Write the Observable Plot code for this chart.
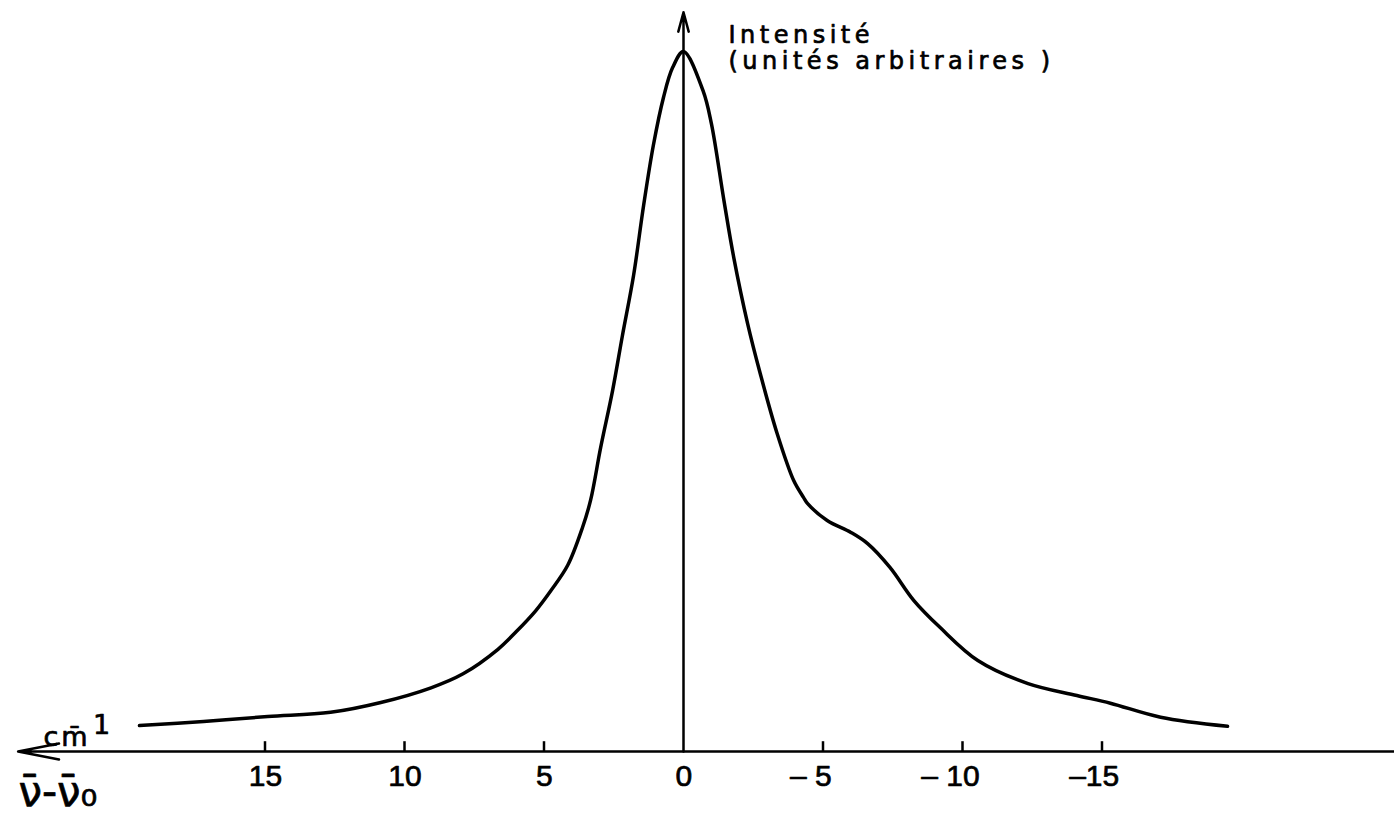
<!DOCTYPE html>
<html>
<head>
<meta charset="utf-8">
<script src="https://cdn.jsdelivr.net/npm/d3@7"></script>
<script src="https://cdn.jsdelivr.net/npm/@observablehq/plot@0.6"></script>
<style>
  html, body { margin: 0; padding: 0; background: #fff; }
  #chart svg { display: block; }
</style>
</head>
<body>
<div id="chart"></div>
<script>
// Raman band profile: wavenumber shift (cm-1) from the line centre and intensity (arbitrary units)
const shift = [19.5, 17.2, 14.9, 12.65, 10.85, 9.05, 7.9, 6.65, 6.0, 5.3, 4.75, 4.15, 3.62, 3.33, 2.97, 2.54, 2.19,
               1.79, 1.43, 1.08, 0.72, 0.39, 0,
               -0.7, -1.0, -1.45, -1.8, -2.3, -2.75, -3.35, -3.95, -4.3, -4.45, -5.15, -6.0, -6.6, -7.4, -8.25,
               -9.2, -10.55, -12.35, -14.1, -15.3, -17.1, -19.5];
const intensity = [3.7, 4.3, 5.0, 5.6, 7.0, 9.1, 11.1, 14.6, 17.1, 20.1, 23.0, 26.6, 32.0, 35.9, 43.4, 51.6, 59.4,
                   68.0, 78.0, 86.6, 93.4, 97.7, 100,
                   94.4, 89.7, 78.7, 70.6, 61.1, 54.0, 45.5, 38.7, 36.3, 35.4, 33.0, 31.3, 29.7, 26.3, 21.6,
                   17.7, 13.0, 9.7, 8.0, 6.9, 4.9, 3.6];

// Axis ticks and their labels
const tickValues = [15, 10, 5, 0, -5, -10, -15];
const tickLabels = ["15", "10", "5", "0", "– 5", "– 10", "–15"];

// Extent of the two drawn axes (in data units)
const xAxisExtent = [-25.5, 23.85];
const yAxisTop = 105.6;

const profile = shift.map((s, i) => ({shift: s, intensity: intensity[i]}));
const ticks = tickValues.map((v, i) => ({value: v, label: tickLabels[i]}));
const digitCount = s => s.replace(/[^0-9]/g, "").length;

const axisW = 2.5;
const labelFont = "Liberation Sans, Arial, sans-serif";
const letterFont = "DejaVu Sans, sans-serif";
// a thin outline in the text colour gives the heavier pen stroke of the lettering
const ink = {fill: "#000", stroke: "#000", strokeWidth: 0.7};

// tick labels are right-aligned so that their digits end up centred on the tick
const tickLabelMark = (n) => Plot.text(ticks, {
  filter: d => digitCount(d.label) === n,
  x: "value", y: 0, text: "label",
  textAnchor: "end",
  dx: n * 8.6,
  dy: 25,
  lineAnchor: "middle",
  fontSize: 30,
  fontFamily: labelFont,
  ...ink
});

const chart = Plot.plot({
  width: 1394,
  height: 814,
  marginLeft: 125,
  marginRight: 153,
  marginTop: 51,
  marginBottom: 63,
  x: {domain: [20, -20], axis: null},
  y: {domain: [0, 100], axis: null},
  style: {background: "#fff", color: "#000", overflow: "visible"},
  marks: [
    // horizontal axis, arrow pointing toward increasing shift
    Plot.arrow([{x1: xAxisExtent[0], x2: xAxisExtent[1]}], {
      x1: "x1", x2: "x2", y1: 0, y2: 0,
      stroke: "#000", strokeWidth: axisW, headLength: 25, headAngle: 22
    }),
    // vertical intensity axis
    Plot.arrow([{y2: yAxisTop}], {
      x1: 0, x2: 0, y1: 0, y2: "y2",
      stroke: "#000", strokeWidth: axisW, headLength: 12, headAngle: 30
    }),
    // small tick marks above the axis
    Plot.ruleX(ticks.filter(d => d.value !== 0), {
      x: "value", y1: 0, y2: 1.4, stroke: "#000", strokeWidth: axisW
    }),
    tickLabelMark(1),
    tickLabelMark(2),
    // intensity profile
    Plot.line(profile, {
      x: "shift", y: "intensity",
      curve: "catmull-rom",
      stroke: "#000", strokeWidth: 3.5,
      strokeLinecap: "round", strokeLinejoin: "round"
    }),
    // vertical axis title
    Plot.text(["Intensité"], {
      frameAnchor: "top-left", dx: 603, dy: -9,
      textAnchor: "start", lineAnchor: "bottom",
      fontSize: 24, fontFamily: letterFont, ...ink
    }),
    Plot.text(["(unités arbitraires )"], {
      frameAnchor: "top-left", dx: 603, dy: 17,
      textAnchor: "start", lineAnchor: "bottom",
      fontSize: 24, fontFamily: letterFont, ...ink
    }),
    // unit of the horizontal axis: cm-1 (minus written as a bar over the m)
    Plot.text(["cm̄"], {
      frameAnchor: "bottom-left", dx: -82, dy: -6,
      textAnchor: "start", lineAnchor: "bottom",
      fontSize: 27, fontFamily: letterFont, ...ink
    }),
    Plot.text(["1"], {
      frameAnchor: "bottom-left", dx: -24, dy: -18,
      textAnchor: "middle", lineAnchor: "bottom",
      fontSize: 27, fontFamily: letterFont, ...ink
    }),
    // horizontal axis quantity
    Plot.text(["ν̄-ν̄₀"], {
      frameAnchor: "bottom-left", dx: -107, dy: 54,
      textAnchor: "start", lineAnchor: "bottom",
      fontSize: 42, fontFamily: letterFont, ...ink
    })
  ]
});

// wide hand-lettered spacing for the axis titles
const spacing = {"Intensité": 4.5, "(unités arbitraires )": 4.5, "cm̄": 3};
d3.select(chart).selectAll("text").each(function () {
  const s = spacing[this.textContent];
  if (s !== undefined) this.style.letterSpacing = s + "px";
});

document.getElementById("chart").append(chart);
</script>
</body>
</html>
